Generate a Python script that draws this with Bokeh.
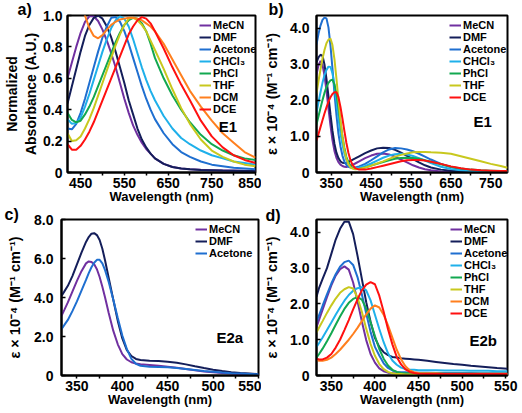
from bokeh.plotting import figure
from bokeh.layouts import column, row
from bokeh.models import (FixedTicker, CustomJSTickFormatter, Label, Legend,
                          LegendItem, Range1d)
from bokeh.embed import file_html
from bokeh.resources import INLINE

FONT = "Liberation Sans"

names = ["MeCN", "DMF", "Acetone", "CHCl\u2083", "PhCl", "THF", "DCM", "DCE"]
colors = ["#7030A0", "#141E5A", "#1F6FD0", "#1FB0EA", "#12A850", "#C8C81E", "#FF7F1E", "#FF1010"]

# ---------------- panel a (E1, normalized) ----------------
wl_a = [420, 430, 440, 450, 460, 470, 480, 490, 500, 510, 520, 530, 540, 550, 560,
        570, 580, 590, 600, 610, 620, 640, 660, 680, 700, 725, 750, 775, 800, 825, 850]
a_mecn = [0.60, 0.70, 0.80, 0.89, 0.96, 0.995, 0.995, 0.965, 0.91, 0.84, 0.76, 0.67, 0.57, 0.47, 0.38,
          0.30, 0.24, 0.19, 0.15, 0.12, 0.09, 0.055, 0.035, 0.025, 0.02, 0.017, 0.015, 0.013, 0.012, 0.011, 0.01]
a_dmf = [0.44, 0.55, 0.66, 0.77, 0.87, 0.94, 0.985, 1.0, 0.98, 0.93, 0.86, 0.77, 0.67, 0.57, 0.46,
         0.37, 0.28, 0.21, 0.16, 0.12, 0.09, 0.055, 0.035, 0.025, 0.02, 0.016, 0.014, 0.012, 0.011, 0.01, 0.01]
a_acetone = [0.28, 0.275, 0.31, 0.38, 0.47, 0.57, 0.67, 0.77, 0.86, 0.93, 0.985, 0.99, 0.96, 0.90, 0.82,
             0.73, 0.64, 0.55, 0.47, 0.40, 0.34, 0.25, 0.18, 0.13, 0.10, 0.07, 0.05, 0.04, 0.03, 0.025, 0.02]
a_chcl3 = [0.34, 0.31, 0.315, 0.35, 0.42, 0.50, 0.59, 0.68, 0.77, 0.85, 0.92, 0.97, 0.995, 0.98, 0.93,
           0.85, 0.76, 0.67, 0.59, 0.52, 0.46, 0.36, 0.28, 0.22, 0.18, 0.14, 0.11, 0.09, 0.07, 0.06, 0.05]
a_phcl = [0.38, 0.335, 0.32, 0.33, 0.37, 0.42, 0.48, 0.55, 0.62, 0.69, 0.76, 0.83, 0.89, 0.94, 0.97,
          0.985, 0.98, 0.95, 0.90, 0.82, 0.73, 0.60, 0.49, 0.40, 0.32, 0.24, 0.18, 0.14, 0.11, 0.09, 0.08]
a_thf = [0.25, 0.20, 0.205, 0.23, 0.28, 0.34, 0.41, 0.49, 0.57, 0.65, 0.73, 0.81, 0.88, 0.94, 0.98,
         0.985, 0.97, 0.94, 0.90, 0.84, 0.78, 0.66, 0.53, 0.41, 0.31, 0.21, 0.14, 0.10, 0.07, 0.05, 0.04]
a_dcm = [1.30, 1.22, 1.14, 1.07, 1.00, 0.92, 0.87, 0.855, 0.875, 0.91, 0.94, 0.96, 0.975, 0.98, 0.985,
         0.985, 0.98, 0.97, 0.95, 0.93, 0.90, 0.82, 0.72, 0.62, 0.52, 0.42, 0.33, 0.25, 0.19, 0.13, 0.095]
a_dce = [0.18, 0.145, 0.145, 0.17, 0.21, 0.26, 0.32, 0.39, 0.46, 0.53, 0.60, 0.67, 0.74, 0.81, 0.88,
         0.93, 0.97, 0.99, 0.98, 0.95, 0.90, 0.79, 0.67, 0.56, 0.46, 0.33, 0.23, 0.16, 0.11, 0.08, 0.06]

# ---------------- panel b (E1, molar absorptivity) ----------------
wl_b = [313, 318, 323, 328, 333, 338, 343, 348, 353, 358, 363, 368, 373, 378, 383, 388, 393, 398, 403, 410,
        420, 435, 450, 465, 480, 495, 510, 525, 540, 555, 570, 585, 600, 625, 650, 675, 700, 725, 750, 775, 792]
b_mecn = [2.72, 2.98, 3.10, 2.99, 2.70, 2.27, 1.78, 1.31, 0.90, 0.60, 0.41, 0.29, 0.22, 0.18, 0.16, 0.15, 0.17, 0.19, 0.21, 0.25,
          0.31, 0.40, 0.47, 0.52, 0.53, 0.50, 0.44, 0.36, 0.28, 0.20, 0.14, 0.09, 0.06, 0.03, 0.02, 0.02, 0.01, 0.01, 0.01, 0.01, 0.01]
b_dmf = [3.06, 3.20, 3.27, 3.24, 3.00, 2.60, 2.12, 1.62, 1.16, 0.80, 0.55, 0.40, 0.31, 0.27, 0.26, 0.27, 0.29, 0.32, 0.35, 0.39,
         0.45, 0.54, 0.61, 0.67, 0.69, 0.68, 0.63, 0.55, 0.46, 0.37, 0.28, 0.20, 0.14, 0.08, 0.05, 0.03, 0.02, 0.02, 0.02, 0.01, 0.01]
b_acetone = [3.55, 3.85, 4.08, 4.24, 4.30, 4.28, 4.03, 3.53, 2.89, 2.21, 1.60, 1.08, 0.73, 0.47, 0.30, 0.21, 0.16, 0.14, 0.13, 0.14,
             0.17, 0.24, 0.34, 0.45, 0.56, 0.64, 0.68, 0.67, 0.64, 0.59, 0.52, 0.44, 0.36, 0.24, 0.15, 0.10, 0.07, 0.05, 0.04, 0.03, 0.03]
b_chcl3 = [1.66, 1.95, 2.23, 2.49, 2.70, 2.85, 2.94, 2.93, 2.76, 2.42, 1.98, 1.52, 1.09, 0.78, 0.52, 0.34, 0.22, 0.16, 0.13, 0.12,
           0.13, 0.18, 0.25, 0.33, 0.41, 0.47, 0.51, 0.52, 0.50, 0.46, 0.40, 0.33, 0.26, 0.16, 0.10, 0.06, 0.04, 0.03, 0.02, 0.02, 0.02]
b_phcl = [1.33, 1.56, 1.79, 2.01, 2.21, 2.37, 2.49, 2.56, 2.58, 2.45, 2.18, 1.81, 1.40, 1.01, 0.68, 0.43, 0.29, 0.19, 0.13, 0.10,
          0.10, 0.14, 0.19, 0.24, 0.29, 0.34, 0.38, 0.40, 0.41, 0.40, 0.38, 0.34, 0.30, 0.23, 0.16, 0.11, 0.08, 0.06, 0.05, 0.04, 0.04]
b_thf = [2.20, 2.54, 2.86, 3.16, 3.40, 3.59, 3.69, 3.72, 3.54, 3.15, 2.61, 2.02, 1.46, 0.98, 0.62, 0.38, 0.23, 0.15, 0.11, 0.09,
         0.10, 0.14, 0.19, 0.25, 0.31, 0.38, 0.44, 0.49, 0.53, 0.56, 0.57, 0.57, 0.56, 0.55, 0.52, 0.45, 0.38, 0.31, 0.24, 0.18, 0.13]
b_dce = [0.89, 1.07, 1.26, 1.45, 1.64, 1.81, 1.97, 2.09, 2.18, 2.23, 2.23, 2.09, 1.83, 1.50, 1.15, 0.82, 0.55, 0.35, 0.22, 0.12,
         0.08, 0.08, 0.11, 0.15, 0.19, 0.23, 0.27, 0.31, 0.34, 0.35, 0.35, 0.33, 0.30, 0.24, 0.17, 0.12, 0.08, 0.06, 0.05, 0.04, 0.04]

# ---------------- panel c (E2a) ----------------
wl_c = [333, 336, 340, 345, 350, 355, 360, 363, 366, 369, 372, 375, 378, 381, 385, 390, 395, 400,
        405, 410, 415, 420, 430, 440, 450, 460, 470, 480, 490, 500, 510, 520, 530, 540, 550]
c_mecn = [3.06, 3.35, 3.75, 4.30, 4.85, 5.35, 5.75, 5.85, 5.82, 5.70, 5.45, 5.05, 4.55, 4.00, 3.20, 2.30, 1.60, 1.10,
          0.82, 0.68, 0.62, 0.58, 0.54, 0.50, 0.45, 0.40, 0.33, 0.27, 0.21, 0.17, 0.13, 0.10, 0.07, 0.05, 0.03]
c_dmf = [4.08, 4.30, 4.60, 5.10, 5.70, 6.30, 6.85, 7.10, 7.27, 7.30, 7.20, 6.95, 6.50, 5.90, 5.00, 3.90, 2.80, 1.90,
         1.30, 1.00, 0.85, 0.80, 0.76, 0.74, 0.70, 0.65, 0.57, 0.47, 0.38, 0.30, 0.23, 0.17, 0.13, 0.10, 0.07]
c_acetone = [2.38, 2.58, 2.85, 3.30, 3.80, 4.35, 4.90, 5.25, 5.55, 5.78, 5.93, 5.93, 5.75, 5.40, 4.80, 3.90, 2.95, 2.05,
             1.35, 0.85, 0.60, 0.50, 0.45, 0.44, 0.42, 0.38, 0.33, 0.28, 0.23, 0.19, 0.15, 0.12, 0.10, 0.08, 0.06]

# ---------------- panel d (E2b) ----------------
wl_d = [333, 336, 340, 345, 350, 355, 360, 365, 370, 375, 380, 385, 390, 395, 400, 405, 410, 415,
        420, 425, 430, 435, 440, 445, 450, 460, 470, 480, 490, 500, 510, 520, 530, 540, 552]
d_mecn = [1.35, 1.56, 1.84, 2.19, 2.52, 2.79, 2.97, 3.05, 2.96, 2.60, 2.08, 1.51, 0.99, 0.60, 0.36, 0.20, 0.12, 0.08,
          0.07, 0.065, 0.06, 0.06, 0.06, 0.055, 0.055, 0.05, 0.05, 0.05, 0.045, 0.045, 0.04, 0.04, 0.04, 0.04, 0.04]
d_dmf = [2.20, 2.45, 2.70, 3.00, 3.40, 3.80, 4.10, 4.30, 4.30, 3.95, 3.35, 2.70, 2.05, 1.50, 1.05, 0.80, 0.65, 0.57,
         0.52, 0.50, 0.48, 0.47, 0.46, 0.45, 0.44, 0.41, 0.38, 0.35, 0.32, 0.30, 0.27, 0.25, 0.23, 0.21, 0.19]
d_acetone = [1.50, 1.69, 1.95, 2.27, 2.57, 2.83, 3.04, 3.17, 3.21, 3.09, 2.75, 2.27, 1.73, 1.22, 0.80, 0.56, 0.34, 0.21,
             0.14, 0.10, 0.09, 0.09, 0.08, 0.08, 0.08, 0.08, 0.07, 0.07, 0.07, 0.07, 0.07, 0.06, 0.06, 0.06, 0.06]
d_chcl3 = [0.80, 0.91, 1.06, 1.27, 1.48, 1.70, 1.90, 2.09, 2.25, 2.37, 2.44, 2.47, 2.38, 2.10, 1.70, 1.30, 0.93, 0.62,
           0.42, 0.30, 0.22, 0.18, 0.16, 0.16, 0.15, 0.15, 0.15, 0.14, 0.14, 0.14, 0.13, 0.13, 0.13, 0.12, 0.12]
d_phcl = [0.50, 0.60, 0.75, 0.96, 1.18, 1.42, 1.65, 1.86, 2.03, 2.14, 2.19, 2.12, 1.87, 1.49, 1.10, 0.74, 0.47, 0.28,
          0.16, 0.10, 0.07, 0.06, 0.06, 0.06, 0.06, 0.055, 0.055, 0.05, 0.05, 0.05, 0.05, 0.05, 0.05, 0.05, 0.05]
d_thf = [1.20, 1.34, 1.52, 1.75, 1.96, 2.15, 2.31, 2.41, 2.47, 2.43, 2.18, 1.78, 1.31, 0.88, 0.55, 0.32, 0.18, 0.10,
         0.06, 0.04, 0.04, 0.03, 0.03, 0.03, 0.03, 0.03, 0.03, 0.02, 0.02, 0.02, 0.02, 0.02, 0.02, 0.02, 0.02]
d_dcm = [0.43, 0.41, 0.41, 0.44, 0.50, 0.60, 0.72, 0.86, 1.00, 1.16, 1.33, 1.52, 1.71, 1.87, 1.96, 1.90, 1.70, 1.40,
         1.06, 0.72, 0.45, 0.26, 0.14, 0.09, 0.07, 0.06, 0.06, 0.05, 0.05, 0.05, 0.05, 0.05, 0.05, 0.05, 0.05]
d_dce = [0.47, 0.45, 0.45, 0.50, 0.60, 0.78, 1.00, 1.27, 1.55, 1.85, 2.13, 2.38, 2.54, 2.61, 2.55, 2.23, 1.78, 1.29,
         0.87, 0.52, 0.31, 0.17, 0.10, 0.07, 0.05, 0.04, 0.04, 0.04, 0.04, 0.04, 0.04, 0.04, 0.04, 0.04, 0.04]

a_x_major = [450, 550, 650, 750, 850]
a_x_minor = [500, 600, 700, 800]
b_x_major = [350, 450, 550, 650, 750]
b_x_minor = [400, 500, 600, 700]
cd_x_major = [350, 400, 450, 500, 550]
cd_x_minor = [375, 425, 475, 525]
a_y_ticks = [0, 0.2, 0.4, 0.6, 0.8, 1.0]
b_y_ticks = [0, 1, 2, 3, 4]
c_y_ticks = [0, 2, 4, 6, 8]
d_y_ticks = [0, 1, 2, 3, 4]

EPS_LABEL = "\u03b5 \u00d7 10\u207b\u2074 (M\u207b\u00b9 cm\u207b\u00b9)"

fmt_code = "return tick == 0 ? '0' : tick.toFixed(1);"


def make_panel(size, xr, yr, borders, xmaj, xmin, yticks, ylabel, ylsize, xs, series, idx,
               legend_xy, tag, tag_x, tag_standoff, ident, ident_pos, y_std, y_lbl_std):
    W, H = size
    ml, mr, mt, mb = borders
    p = figure(width=W, height=H, x_range=Range1d(*xr), y_range=Range1d(*yr),
               output_backend="svg", toolbar_location=None,
               min_border_left=ml, min_border_right=mr,
               min_border_top=mt, min_border_bottom=mb)
    p.xgrid.visible = False
    p.ygrid.visible = False
    p.outline_line_color = "black"
    p.outline_line_width = 2
    p.outline_line_alpha = 1

    xa = p.xaxis[0]
    xa.ticker = FixedTicker(ticks=xmaj, minor_ticks=xmin)
    xa.axis_label = "Wavelength (nm)"
    xa.major_tick_in = 0
    xa.major_tick_out = 3
    xa.minor_tick_in = 0
    xa.minor_tick_out = 3
    ya = p.yaxis[0]
    ya.ticker = FixedTicker(ticks=yticks)
    ya.formatter = CustomJSTickFormatter(code=fmt_code)
    ya.axis_label = ylabel
    ya.major_tick_in = 4
    ya.major_tick_out = 0
    ya.minor_tick_in = 0
    ya.minor_tick_out = 0
    for ax in (xa, ya):
        ax.axis_line_width = 2
        ax.major_tick_line_width = 1.5
        ax.minor_tick_line_width = 1.5
        ax.major_label_text_font = FONT
        ax.major_label_text_font_style = "bold"
        ax.major_label_text_font_size = "14px"
        ax.major_label_text_color = "black"
        ax.axis_label_text_font = FONT
        ax.axis_label_text_font_style = "bold"
        ax.axis_label_text_color = "black"
    xa.axis_label_text_font_size = "13px"
    ya.axis_label_text_font_size = ylsize
    xa.major_label_standoff = 2
    xa.axis_label_standoff = -2
    ya.major_label_standoff = y_std
    ya.axis_label_standoff = y_lbl_std

    items = []
    for i in idx:
        r = p.line(xs, series[i], line_color=colors[i], line_width=2)
        items.append(LegendItem(label=names[i], renderers=[r]))
    n = len(items)
    leg = Legend(items=items, location=(legend_xy[0], legend_xy[1] - 12 * n),
                 padding=0, margin=0,
                 spacing=0, glyph_width=12, glyph_height=12, label_height=12,
                 label_standoff=2, border_line_color=None,
                 background_fill_alpha=0, label_text_font=FONT,
                 label_text_font_style="bold", label_text_font_size="11px",
                 label_text_color="black")
    p.add_layout(leg)

    # panel tag drawn as the plot title, pulled left over the y-axis area
    p.title.text = tag
    p.title.align = "left"
    p.title.offset = tag_x - ml
    p.title.standoff = tag_standoff
    p.title.text_font = FONT
    p.title.text_font_style = "bold"
    p.title.text_font_size = "16px"
    p.title.text_color = "black"

    p.add_layout(Label(x=ident_pos[0], y=ident_pos[1], text=ident, text_font=FONT,
                       text_font_style="bold", text_font_size="15px",
                       text_align="right", text_baseline="middle", text_color="black"))
    return p


series_a = [a_mecn, a_dmf, a_acetone, a_chcl3, a_phcl, a_thf, a_dcm, a_dce]
series_b = [b_mecn, b_dmf, b_acetone, b_chcl3, b_phcl, b_thf, None, b_dce]
series_c = [c_mecn, c_dmf, c_acetone]
series_d = [d_mecn, d_dmf, d_acetone, d_chcl3, d_phcl, d_thf, d_dcm, d_dce]

pa = make_panel((261, 206), (420, 850), (0, 1.0), (59, 6, 15, 34), a_x_major, a_x_minor, a_y_ticks,
                "Normalized\nAbsorbance (A.U.)", "14px", wl_a, series_a, range(8),
                (132, 153), "a)", 9, -5, "E1", (808, 0.29), 5, 1)
pb = make_panel((261, 206), (313, 792), (0, 4.36), (51, 15, 15, 34), b_x_major, b_x_minor, b_y_ticks,
                EPS_LABEL, "14.5px", wl_b, series_b, [0, 1, 2, 3, 4, 5, 7],
                (133, 153), "b)", 3, -5, "E1", (753, 1.42), 7, 7)
pc = make_panel((261, 207), (333, 550), (0, 8.0), (61, 3, 13, 37), cd_x_major, cd_x_minor, c_y_ticks,
                EPS_LABEL, "14.5px", wl_c, series_c, [0, 1, 2],
                (134, 152), "c)", 4, -7, "E2a", (533, 1.94), 8, 8)
pd = make_panel((261, 207), (333, 552), (0, 4.36), (51, 15, 12, 38), cd_x_major, cd_x_minor, d_y_ticks,
                EPS_LABEL, "14.5px", wl_d, series_d, range(8),
                (134, 152), "d)", 0, -8, "E2b", (540, 0.97), 7, 7)

layout = column(row(pa, pb), row(pc, pd))
open("out.html", "w").write(file_html(layout, INLINE))
